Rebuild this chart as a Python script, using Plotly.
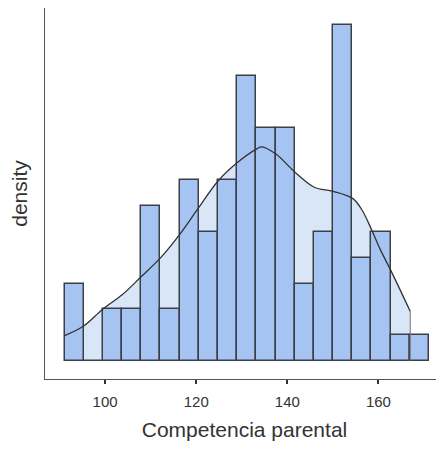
import plotly.graph_objects as go
import numpy as np

# histogram of "Competencia parental" (bin counts)
bin_start = 91.1
bin_width = 4.21
counts = [3, 0, 2, 2, 6, 2, 7, 5, 7, 11, 9, 9, 3, 5, 13, 4, 5, 1, 1]

# density curve
curve_x = [91.1, 95.2, 99.4, 103.8, 108.0, 112.2, 116.3, 120.5, 124.8, 129.1,
           133.3, 134.4, 137.5, 141.8, 145.9, 150.1, 154.4, 156.4, 158.5,
           160.4, 162.8, 167.0]
curve_y = [0.00248, 0.00338, 0.0050, 0.00644, 0.0082, 0.0100, 0.0122, 0.0148,
           0.0174, 0.0192, 0.0205, 0.0207, 0.0200, 0.0182, 0.0168, 0.0164,
           0.0157, 0.0146, 0.0127, 0.0108, 0.0087, 0.0048]

n = sum(counts)
centers = bin_start + bin_width * (np.arange(len(counts)) + 0.5)
density = np.array(counts) / (n * bin_width)

font = "Liberation Sans, Arial, sans-serif"
x_range = [86.8, 174.4]
y_range = [-0.00171, 0.0341]

fig = go.Figure()

# filled area under the curve, on the base axes (drawn first)
fig.add_trace(go.Scatter(
    x=curve_x, y=curve_y, mode="lines", fill="tozeroy",
    fillcolor="#d9e6f7", line=dict(width=0, shape="spline", smoothing=1),
    hoverinfo="skip", showlegend=False))

# bars on an overlay so they sit above the fill
fig.add_trace(go.Bar(
    x=centers, y=density, width=bin_width, xaxis="x2", yaxis="y2",
    marker=dict(color="#a6c4f2", line=dict(color="#3c3f47", width=1.5)),
    showlegend=False))

# curve outline on top of everything
fig.add_trace(go.Scatter(
    x=curve_x, y=curve_y, mode="lines", xaxis="x3", yaxis="y3",
    line=dict(color="#333333", width=1.3, shape="spline", smoothing=1),
    hoverinfo="skip", showlegend=False))
fig.add_trace(go.Scatter(
    x=[curve_x[-1], curve_x[-1]], y=[curve_y[-1], 0], mode="lines",
    xaxis="x3", yaxis="y3",
    line=dict(color="#777777", width=1),
    hoverinfo="skip", showlegend=False))

hidden = dict(visible=False, showgrid=False, zeroline=False)
fig.update_layout(
    width=444, height=449,
    # page body has an 8px margin, so the plot area is shifted up/left
    margin=dict(l=37, r=8, t=0, b=78),
    plot_bgcolor="white", paper_bgcolor="white",
    bargap=0,
    font=dict(family=font, color="#333333"),
    xaxis2=dict(overlaying="x", range=x_range, **hidden),
    yaxis2=dict(overlaying="y", range=y_range, **hidden),
    xaxis3=dict(overlaying="x", range=x_range, **hidden),
    yaxis3=dict(overlaying="y", range=y_range, **hidden),
)
fig.layout.xaxis.update(
    range=x_range, tickvals=[100, 120, 140, 160],
    showline=True, linecolor="#555555", linewidth=1.3,
    ticks="outside", ticklen=4, tickwidth=2, tickcolor="#333333",
    tickfont=dict(size=15, color="#333333"), ticklabelstandoff=5,
    showgrid=False, zeroline=False, automargin=False,
    title=dict(text="Competencia parental", font=dict(size=21), standoff=13),
)
fig.layout.yaxis.update(
    range=y_range,
    showline=True, linecolor="#555555", linewidth=1.3,
    showticklabels=False, ticks="",
    showgrid=False, zeroline=False, automargin=False,
    title=dict(text="density", font=dict(size=21), standoff=14),
)

fig.write_html("out.html")
